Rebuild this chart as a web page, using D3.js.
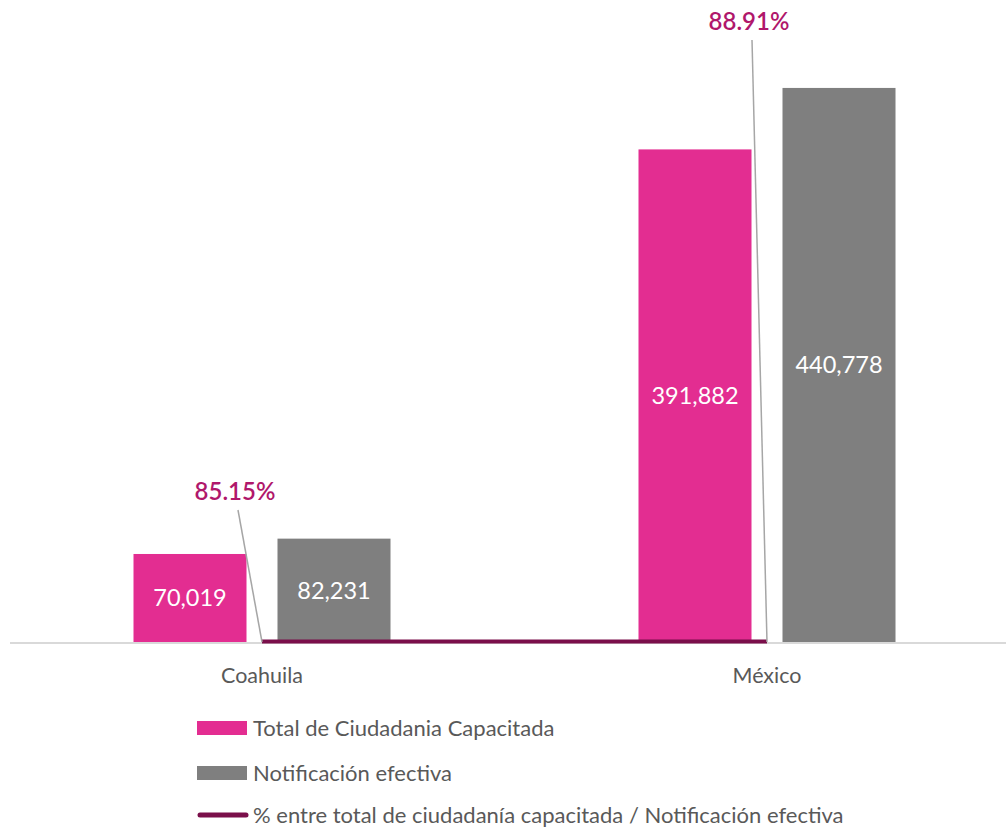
<!DOCTYPE html>
<html>
<head>
<meta charset="utf-8">
<script src="https://cdn.jsdelivr.net/npm/d3@7"></script>
<style>
  body { margin: 0; background: #fff; }
  text { font-family: Lato, "Open Sans", sans-serif; }
</style>
</head>
<body>
<div id="canvas"></div>
<script>
var categories = ["Coahuila", "México"];
var capacitada = [70019, 391882];
var notificacion = [82231, 440778];
var porcentaje = [0.8515, 0.8891];
var porcentajeLabels = ["85.15%", "88.91%"];
var seriesNames = ["Total de Ciudadania Capacitada", "Notificación efectiva",
  "% entre total de ciudadanía capacitada / Notificación efectiva"];

var width = 1006;
var height = 828;
var pink = "#e32d91";
var gray = "#7f7f7f";
var wine = "#7a0f4a";

var svg = d3.select("#canvas").append("svg")
  .attr("width", width).attr("height", height);

var x = d3.scaleBand().domain(categories).range([9.5, 1019.5]);
var sub = d3.scaleBand().domain([0, 1]).range([124, 381])
  .paddingInner(31 / 144).paddingOuter(0);
var y = d3.scaleLinear().domain([0, 500000]).range([642, 13.5]);

// baseline
svg.append("line")
  .attr("x1", 10).attr("x2", width)
  .attr("y1", y(0) + 1).attr("y2", y(0) + 1)
  .attr("stroke", "#d9d9d9").attr("stroke-width", 2);

var series = [capacitada, notificacion];
var colors = [pink, gray];

series.forEach(function(vals, s) {
  svg.selectAll(".bar" + s).data(vals).enter().append("rect")
    .attr("x", function(d, i) { return x(categories[i]) + sub(s); })
    .attr("y", function(d) { return y(d); })
    .attr("width", sub.bandwidth())
    .attr("height", function(d) { return y(0) - y(d); })
    .attr("fill", colors[s]);

  svg.selectAll(".lbl" + s).data(vals).enter().append("text")
    .attr("x", function(d, i) { return x(categories[i]) + sub(s) + sub.bandwidth() / 2; })
    .attr("y", function(d) { return (y(d) + y(0)) / 2; })
    .attr("dy", "0.35em")
    .attr("text-anchor", "middle")
    .attr("fill", "#fff")
    .attr("font-size", 23.5)
    .text(function(d) { return d3.format(",")(d); });
});

// percent line
var line = d3.line()
  .x(function(d, i) { return x(categories[i]) + x.bandwidth() / 2; })
  .y(function(d) { return y(d) - 0.5; });
svg.append("path").datum(porcentaje)
  .attr("d", line)
  .attr("fill", "none")
  .attr("stroke", wine)
  .attr("stroke-width", 4);

// leader lines + percent labels
var labelPos = [[235, 492], [749, 22]];
porcentaje.forEach(function(d, i) {
  var cx = x(categories[i]) + x.bandwidth() / 2;
  svg.append("line")
    .attr("x1", labelPos[i][0] + 3).attr("y1", labelPos[i][1] + 18)
    .attr("x2", cx).attr("y2", y(d))
    .attr("stroke", "#a6a6a6").attr("stroke-width", 1.5);
  svg.append("text")
    .attr("x", labelPos[i][0]).attr("y", labelPos[i][1])
    .attr("dy", "0.35em")
    .attr("text-anchor", "middle")
    .attr("fill", "#b0176b")
    .attr("font-size", 24)
    .attr("font-weight", 600)
    .text(porcentajeLabels[i]);
});

// category labels
svg.selectAll(".cat").data(categories).enter().append("text")
  .attr("x", function(d) { return x(d) + x.bandwidth() / 2; })
  .attr("y", 675)
  .attr("dy", "0.35em")
  .attr("text-anchor", "middle")
  .attr("fill", "#595959")
  .attr("font-size", 21.5)
  .text(function(d) { return d; });

// legend
var legendY = [728, 773, 815];
seriesNames.forEach(function(name, i) {
  if (i < 2) {
    svg.append("rect")
      .attr("x", 197).attr("y", legendY[i] - 7)
      .attr("width", 50).attr("height", 14)
      .attr("fill", colors[i]);
  } else {
    svg.append("line")
      .attr("x1", 200).attr("x2", 246)
      .attr("y1", legendY[i]).attr("y2", legendY[i])
      .attr("stroke", wine).attr("stroke-width", 5)
      .attr("stroke-linecap", "round");
  }
  svg.append("text")
    .attr("x", 253).attr("y", legendY[i])
    .attr("dy", "0.35em")
    .attr("fill", "#595959")
    .attr("font-size", 22)
    .text(name);
});
</script>
</body>
</html>
